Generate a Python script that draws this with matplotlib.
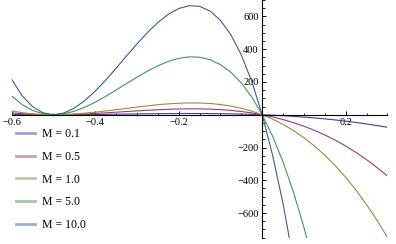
import matplotlib
matplotlib.use("Agg")
import matplotlib.pyplot as plt
from matplotlib.lines import Line2D
from matplotlib.ticker import MultipleLocator, FixedLocator

plt.rcParams['font.family'] = ['Liberation Serif', 'DejaVu Serif']

# values (x step 0.025)
x = [-0.6, -0.575, -0.55, -0.525, -0.5, -0.475, -0.45, -0.425, -0.4, -0.375,
     -0.35, -0.325, -0.3, -0.275, -0.25, -0.225, -0.2, -0.175, -0.15, -0.125,
     -0.1, -0.075, -0.05, -0.025, 0.0, 0.025, 0.05, 0.075, 0.1, 0.125,
     0.15, 0.175, 0.2, 0.225, 0.25, 0.275, 0.3]

y_m01 = [2.4, 1.3, 0.6, 0.1, 0, 0.1, 0.5, 1.0, 1.6, 2.3, 3.2, 4.0, 4.8, 5.6, 6.3,
         6.8, 7.2, 7.4, 7.4, 7.0, 6.4, 5.4, 4.1, 2.3, 0, -2.8, -6.1, -9.9, -14.4,
         -19.5, -25.4, -31.9, -39.2, -47.3, -56.3, -66.1, -76.8]
y_m05 = [11.7, 6.3, 2.7, 0.6, 0, 0.6, 2.2, 4.7, 7.8, 11.4, 15.4, 19.4, 23.4, 27.1,
         30.5, 33.2, 35.1, 36.0, 35.8, 34.3, 31.2, 26.4, 19.7, 11.0, 0, -13.4, -29.5,
         -48.4, -70.2, -95.2, -123.6, -155.5, -191.1, -230.6, -274.2, -322.1, -374.4]
y_m1 = [23.4, 12.6, 5.4, 1.3, 0, 1.2, 4.4, 9.3, 15.6, 22.9, 30.7, 38.8, 46.8, 54.3,
        60.9, 66.4, 70.2, 72.1, 71.7, 68.6, 62.4, 52.8, 39.5, 22.0, 0, -26.9, -59.0,
        -96.7, -140.4, -190.4, -247.2, -311.0, -382.2, -461.2, -548.4, -644.2, -748.8]
# steep curves leave the frame early
x_m5 = x[:30]
y_m5 = [114.6, 61.8, 26.3, 6.3, 0, 5.7, 21.5, 45.7, 76.4, 111.9, 150.4, 190.1, 229.2,
        265.9, 298.4, 325.0, 343.8, 353.0, 351.0, 335.7, 305.6, 258.7, 193.4, 107.7,
        0, -131.6, -288.9, -473.6, -687.6, -932.6]
x_m10 = x[:28]
y_m10 = [216, 116, 49.5, 11.8, 0, 10.7, 40.5, 86.1, 144, 211, 283.5, 358.3, 432,
         501.2, 562.5, 612.6, 648, 665.4, 661.5, 632.8, 576, 487.7, 364.5, 203.1,
         0, -248.1, -544.5, -892.7]

labels = ['M = 0.1', 'M = 0.5', 'M = 1.0', 'M = 5.0', 'M = 10.0']
colors = ['#3f3d99', '#993d71', '#998b3d', '#3d9956', '#3d5a99']

fig = plt.figure(figsize=(3.96, 2.44), dpi=100)
ax = fig.add_axes([0.0295, 0.026, 0.949, 0.974])

series = [(x, y_m01), (x, y_m05), (x, y_m1), (x_m5, y_m5), (x_m10, y_m10)]
for (xs, ys), c in zip(series, colors):
    ax.plot(xs, ys, color=c, lw=0.8)

ax.set_xlim(-0.6, 0.3)
ax.set_ylim(-750, 700)

for s in ['top', 'right']:
    ax.spines[s].set_visible(False)
ax.spines['left'].set_position(('data', 0))
ax.spines['bottom'].set_position(('data', 0))
ax.spines['left'].set_linewidth(0.8)
ax.spines['bottom'].set_linewidth(0.8)

xt = [-0.6, -0.4, -0.2, 0.2]
yt = [-600, -400, -200, 200, 400, 600]
ax.xaxis.set_major_locator(FixedLocator(xt))
ax.set_xticklabels(['\u22120.6', '\u22120.4', '\u22120.2', '0.2'])
ax.xaxis.set_minor_locator(MultipleLocator(0.05))
ax.yaxis.set_major_locator(FixedLocator(yt))
ax.set_yticklabels(['\u2212600', '\u2212400', '\u2212200', '200', '400', '600'])
ax.yaxis.set_minor_locator(MultipleLocator(50))
ax.tick_params(which='major', direction='in', length=3.2, width=0.7, labelsize=7.5, pad=2.5)
ax.tick_params(which='minor', direction='in', length=1.8, width=0.6)

handles = [Line2D([], [], color=c, lw=2, alpha=0.5) for c in colors]
ax.legend(handles, labels, loc='upper left', bbox_to_anchor=(0.0, 0.482),
          frameon=False, fontsize=8.5, handlelength=1.6, handletextpad=0.6,
          labelspacing=0.92, borderaxespad=0.0)

fig.savefig('out.png', dpi=100)
